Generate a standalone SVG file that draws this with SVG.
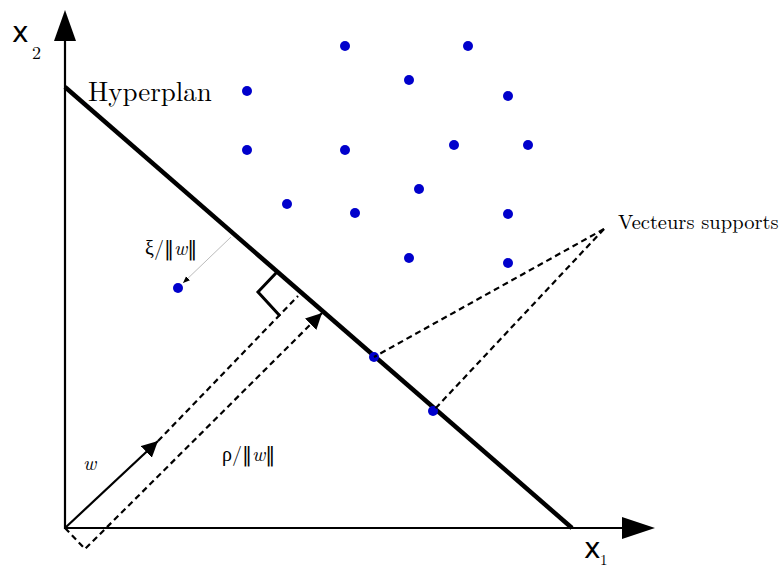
<svg xmlns="http://www.w3.org/2000/svg" width="781" height="570" viewBox="0 0 781 570">
<style>
.axis{stroke:#000;stroke-width:2.2;fill:none}
.hp{stroke:#000;stroke-width:4.5;fill:none}
.dash{stroke:#000;stroke-width:2.2;fill:none;stroke-dasharray:6,4}
.pt{fill:#0000cc}
.serif{font-family:"Latin Modern Roman","Liberation Serif",serif;fill:#000}
.sans{font-family:"DejaVu Sans","Liberation Sans",sans-serif;fill:#000}
.bar{font-family:"DejaVu Serif","DejaVu Sans",serif}
</style>
<defs>
<marker id="ahbig" viewBox="0 0 10 10" refX="10" refY="5" markerWidth="16" markerHeight="16" markerUnits="userSpaceOnUse" orient="auto"><path d="M0,0L10,5L0,10z" fill="#000"/></marker>
<marker id="ahs" viewBox="0 0 10 10" refX="10" refY="5" markerWidth="7" markerHeight="7" markerUnits="userSpaceOnUse" orient="auto"><path d="M0,1L10,5L0,9z" fill="#000"/></marker>
</defs>
<g id="axes">
<line class="axis" x1="65" y1="529" x2="65" y2="38"/>
<polygon points="65,10 54,41 76,41" fill="#000"/>
<line class="axis" x1="64" y1="528" x2="625" y2="528"/>
<polygon points="655,528 622,517 622,539" fill="#000"/>
<text class="sans" x="12" y="42" font-size="28">x</text>
<text class="serif" x="32" y="59" font-size="18">2</text>
<text class="sans" x="584" y="558" font-size="28">x</text>
<text class="serif" x="600" y="565" font-size="15">1</text>
</g>
<g id="hyperplan">
<line class="hp" x1="65" y1="87" x2="572" y2="528"/>
<text class="serif" x="88" y="101" font-size="27">Hyperplan</text>
</g>
<g id="right-angle">
<polyline class="axis" style="stroke-width:3" points="277,272 258,292 280,316"/>
</g>
<g id="points">
<circle class="pt" cx="345" cy="46" r="5"/>
<circle class="pt" cx="468" cy="46" r="5"/>
<circle class="pt" cx="409" cy="80" r="5"/>
<circle class="pt" cx="247" cy="91" r="5"/>
<circle class="pt" cx="508" cy="96" r="5"/>
<circle class="pt" cx="247" cy="150" r="5"/>
<circle class="pt" cx="345" cy="150" r="5"/>
<circle class="pt" cx="454" cy="145" r="5"/>
<circle class="pt" cx="528" cy="145" r="5"/>
<circle class="pt" cx="419" cy="189" r="5"/>
<circle class="pt" cx="287" cy="204" r="5"/>
<circle class="pt" cx="355" cy="213" r="5"/>
<circle class="pt" cx="508" cy="214" r="5"/>
<circle class="pt" cx="409" cy="258" r="5"/>
<circle class="pt" cx="508" cy="263" r="5"/>
<circle class="pt" cx="178" cy="288" r="5"/>
<circle class="pt" cx="374" cy="357" r="5"/>
<circle class="pt" cx="433" cy="411" r="5"/>
</g>
<g id="connectors">
<line x1="65" y1="528" x2="158" y2="441" stroke="#000" stroke-width="2.2" marker-end="url(#ahbig)"/>
<line class="dash" x1="158" y1="441" x2="298" y2="296"/>
<polyline class="dash" points="65,528 85,549 322,313" marker-end="url(#ahbig)"/>
<line x1="231" y1="237" x2="183" y2="283" stroke="#bbb" stroke-width="1" marker-end="url(#ahs)"/>
<line class="dash" x1="604" y1="229" x2="374" y2="357"/>
<line class="dash" x1="604" y1="229" x2="433" y2="411"/>
</g>
<g id="labels">
<text class="serif" x="618" y="229" font-size="20.5">Vecteurs supports</text>
<text class="serif" x="145" y="255" font-size="20">ξ/<tspan class="bar">‖</tspan><tspan font-style="italic">w</tspan><tspan class="bar">‖</tspan></text>
<text class="serif" x="222" y="461" font-size="20">ρ/<tspan class="bar">‖</tspan><tspan font-style="italic">w</tspan><tspan class="bar">‖</tspan></text>
<text class="serif" x="83" y="470" font-size="20" font-style="italic">w</text>
</g>
</svg>
